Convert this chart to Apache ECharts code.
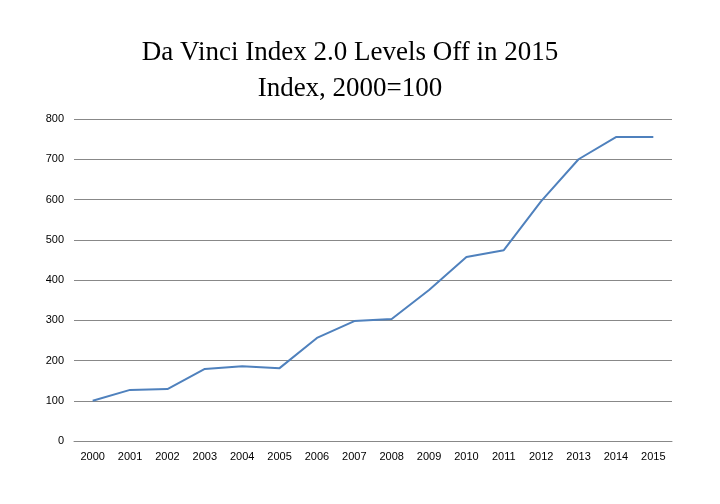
<!DOCTYPE html>
<html><head><meta charset="utf-8">
<script src="https://cdn.jsdelivr.net/npm/echarts@6/dist/echarts.min.js"></script>
<style>html,body{margin:0;padding:0;background:#fff}#c{width:720px;height:504px}</style>
</head><body><div id="c"></div>
<script>
const years = ['2000','2001','2002','2003','2004','2005','2006','2007','2008','2009','2010','2011','2012','2013','2014','2015'];
const indexValues = [100,127,129,179,186,181,256,298,303,375,457,474,596,700,755,755];
const titleLines = ['Da Vinci Index 2.0 Levels Off in 2015','Index, 2000=100'];
const chart = echarts.init(document.getElementById('c'));
chart.setOption({
  animation:false,
  title:{text:titleLines.join('\n'),left:345,top:30,textAlign:'center',
    textStyle:{fontFamily:'Liberation Serif, serif',fontWeight:'normal',fontSize:27,lineHeight:36,color:'#000'}},
  grid:{left:74,right:48,top:119,bottom:63},
  xAxis:{type:'category',data:years,boundaryGap:true,
    axisLine:{lineStyle:{color:'#888'}},axisTick:{show:false},
    axisLabel:{color:'#000',fontSize:11,fontFamily:'Liberation Sans, Arial',margin:10}},
  yAxis:{type:'value',min:0,max:800,interval:100,
    axisLine:{show:false},axisTick:{show:false},
    axisLabel:{color:'#000',fontSize:11,fontFamily:'Liberation Sans, Arial',margin:10},
    splitLine:{lineStyle:{color:'#888',width:1}}},
  series:[{type:'line',data:indexValues,showSymbol:false,
    lineStyle:{color:'#4f81bd',width:2}}]
});
</script></body></html>
